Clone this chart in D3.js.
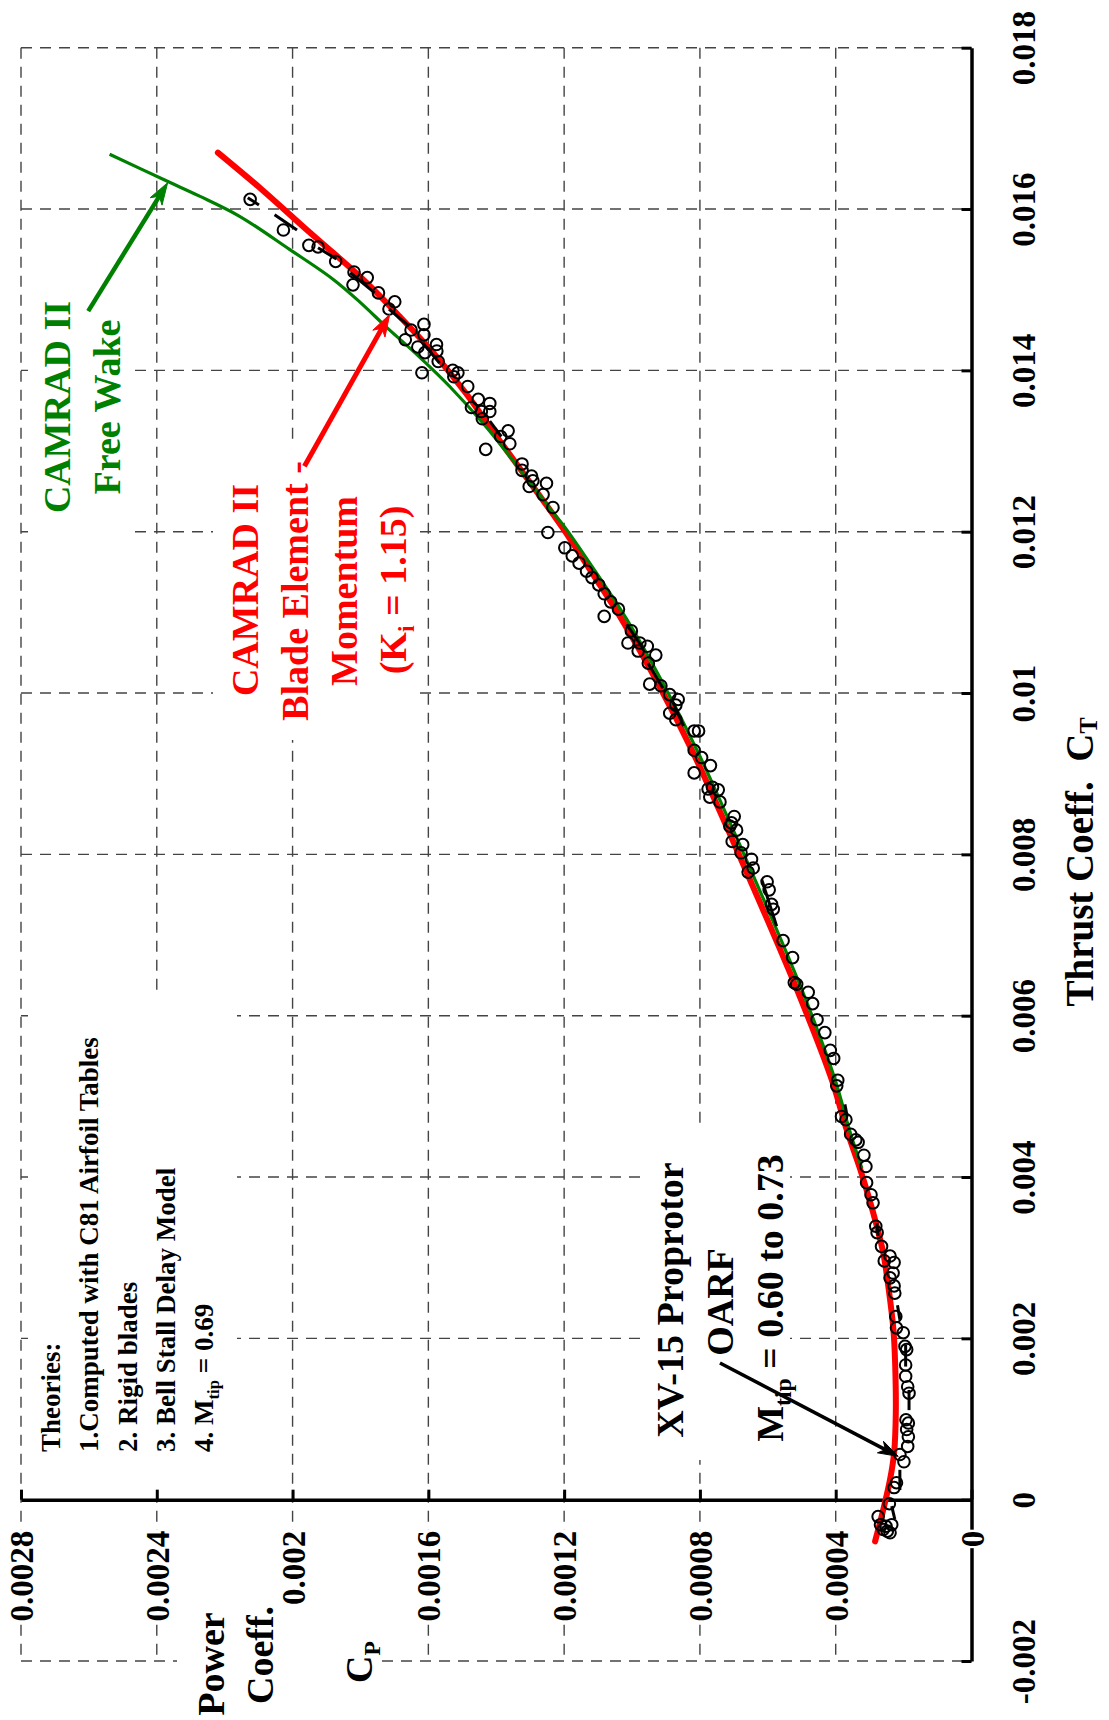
<!DOCTYPE html>
<html>
<head>
<meta charset="utf-8">
<script src="https://cdn.jsdelivr.net/npm/d3@7"></script>
<style>
  html, body { margin: 0; padding: 0; background: #fff; }
  svg { display: block; }
  text { font-family: "Liberation Serif", "Times New Roman", serif; font-weight: bold; }
</style>
</head>
<body>
<svg id="chart" width="1109" height="1720"></svg>
<script>
// Thrust coefficient CT (abscissa of the performance map)
const ctTicks = [-0.002, 0, 0.002, 0.004, 0.006, 0.008, 0.01, 0.012, 0.014, 0.016, 0.018];
const ctTickLabels = ["-0.002", "0", "0.002", "0.004", "0.006", "0.008", "0.01", "0.012", "0.014", "0.016", "0.018"];

// Power coefficient CP (ordinate)
const cpTicks = [0, 0.0004, 0.0008, 0.0012, 0.0016, 0.002, 0.0024, 0.0028];
const cpTickLabels = ["0", "0.0004", "0.0008", "0.0012", "0.0016", "0.002", "0.0024", "0.0028"];

// CAMRAD II blade element - momentum (Ki = 1.15), [CT, CP]
const bemtCurve = [
  [-0.000517, 0.000284], [-0.000124, 0.000260], [0.000248, 0.000240], [0.000579, 0.000228],
  [0.001075, 0.000223], [0.001695, 0.000225], [0.002110, 0.000230], [0.002645, 0.000245],
  [0.003060, 0.000260], [0.003470, 0.000284], [0.003840, 0.000309], [0.004110, 0.000329],
  [0.004590, 0.000368], [0.005210, 0.000412], [0.006240, 0.000506], [0.007400, 0.000623],
  [0.008350, 0.000722], [0.009260, 0.000820], [0.010130, 0.000925], [0.010910, 0.001030],
  [0.011470, 0.001115], [0.012050, 0.001205], [0.012520, 0.001285], [0.013140, 0.001392],
  [0.013720, 0.001490], [0.014220, 0.001586], [0.014670, 0.001685], [0.015090, 0.001783],
  [0.015460, 0.001881], [0.015750, 0.001960], [0.016240, 0.002090], [0.016700, 0.002220]
];

// CAMRAD II free wake, [CT, CP]
const freeWakeCurve = [
  [0.00411, 0.000323], [0.00459, 0.000360], [0.00521, 0.000402], [0.00624, 0.000492],
  [0.00740, 0.000608], [0.00835, 0.000707], [0.00926, 0.000805], [0.01013, 0.000910],
  [0.01091, 0.001015], [0.01147, 0.001102], [0.01205, 0.001197], [0.01225, 0.001235],
  [0.01277, 0.001330], [0.01331, 0.001432], [0.01380, 0.001537], [0.01422, 0.001640],
  [0.01453, 0.001722], [0.01484, 0.001800], [0.01513, 0.001881], [0.01550, 0.002009],
  [0.01591, 0.002156], [0.01616, 0.002274], [0.01635, 0.002372], [0.01668, 0.002539]
];

// XV-15 proprotor hover test, OARF, Mtip 0.60 to 0.73, [CT, CP]
const testPoints = [
  [0.01612, 0.002125], [0.01574, 0.002027], [0.01555, 0.001952], [0.01553, 0.001925],
  [0.01535, 0.001873], [0.01522, 0.001819], [0.01506, 0.001822], [0.01515, 0.001780],
  [0.01496, 0.001747], [0.01476, 0.001716], [0.01485, 0.001699], [0.01438, 0.001668],
  [0.01450, 0.001651], [0.01457, 0.001613], [0.01444, 0.001613], [0.01429, 0.001631],
  [0.01422, 0.001610], [0.01397, 0.001619], [0.01432, 0.001576], [0.01424, 0.001575],
  [0.01411, 0.001571], [0.01400, 0.001528], [0.01397, 0.001513], [0.01392, 0.001525],
  [0.01380, 0.001484], [0.01364, 0.001453], [0.01359, 0.001419], [0.01354, 0.001473],
  [0.01349, 0.001444], [0.01349, 0.001419], [0.01340, 0.001441], [0.01302, 0.001431],
  [0.01318, 0.001387], [0.01325, 0.001365], [0.01309, 0.001360], [0.01284, 0.001324],
  [0.01276, 0.001324], [0.01269, 0.001296], [0.01263, 0.001292], [0.01256, 0.001303],
  [0.01260, 0.001252], [0.01246, 0.001262], [0.01199, 0.001248], [0.01230, 0.001233],
  [0.01180, 0.001198], [0.01170, 0.001176], [0.01161, 0.001156], [0.01151, 0.001134],
  [0.01143, 0.001118], [0.01134, 0.001098], [0.01123, 0.001082], [0.01095, 0.001082],
  [0.01113, 0.001063], [0.01104, 0.001040], [0.01077, 0.001002], [0.01062, 0.001012],
  [0.01062, 0.000977], [0.01058, 0.000955], [0.01052, 0.000982], [0.01047, 0.000930],
  [0.01037, 0.000952], [0.01011, 0.000948], [0.01009, 0.000915], [0.00998, 0.000889],
  [0.00992, 0.000864], [0.00985, 0.000871], [0.00975, 0.000889], [0.00967, 0.000871],
  [0.00953, 0.000817], [0.00953, 0.000804], [0.00929, 0.000817], [0.00920, 0.000795],
  [0.00910, 0.000769], [0.00901, 0.000817], [0.00881, 0.000776], [0.00883, 0.000763],
  [0.00880, 0.000746], [0.00871, 0.000771], [0.00865, 0.000741], [0.00847, 0.000699],
  [0.00839, 0.000707], [0.00835, 0.000712], [0.00830, 0.000692], [0.00816, 0.000705],
  [0.00812, 0.000674], [0.00802, 0.000679], [0.00794, 0.000648], [0.00783, 0.000643],
  [0.00778, 0.000658], [0.00766, 0.000602], [0.00756, 0.000596], [0.00738, 0.000589],
  [0.00732, 0.000584], [0.00693, 0.000555], [0.00672, 0.000527], [0.00641, 0.000522],
  [0.00639, 0.000515], [0.00629, 0.000481], [0.00615, 0.000468], [0.00595, 0.000455],
  [0.00579, 0.000432], [0.00557, 0.000416], [0.00547, 0.000406], [0.00520, 0.000394],
  [0.00513, 0.000397], [0.00475, 0.000383], [0.00471, 0.000370], [0.00453, 0.000356],
  [0.00446, 0.000341], [0.00443, 0.000334], [0.00427, 0.000317], [0.00413, 0.000311],
  [0.00393, 0.000309], [0.00378, 0.000296], [0.00368, 0.000290], [0.00339, 0.000282],
  [0.00331, 0.000278], [0.00314, 0.000265], [0.00296, 0.000257], [0.00302, 0.000240],
  [0.00294, 0.000228], [0.00281, 0.000231], [0.00275, 0.000240], [0.00265, 0.000228],
  [0.00256, 0.000226], [0.00227, 0.000223], [0.00213, 0.000221], [0.00207, 0.000201],
  [0.00190, 0.000196], [0.00186, 0.000191], [0.00167, 0.000194], [0.00153, 0.000194],
  [0.00140, 0.000188], [0.00132, 0.000184], [0.00099, 0.000193], [0.00095, 0.000186],
  [0.00087, 0.000191], [0.00078, 0.000186], [0.00066, 0.000188], [0.00056, 0.000211],
  [0.00047, 0.000199], [0.00021, 0.000221], [0.00015, 0.000228], [-0.00005, 0.000242],
  [-0.00021, 0.000275], [-0.00031, 0.000268], [-0.00033, 0.000252], [-0.00031, 0.000235],
  [-0.00039, 0.000248], [-0.00041, 0.000240], [-0.00037, 0.000260]
];

// Repeat-point runs joined by short lines, [CT1, CP1, CT2, CP2]
const testLinks = [
  [0.01614, 0.002132, 0.01605, 0.002099], [0.01593, 0.002053, 0.01574, 0.001987],
  [0.01552, 0.001925, 0.01538, 0.001871], [0.01521, 0.001830, 0.01496, 0.001758],
  [0.01476, 0.001716, 0.01455, 0.001657], [0.01434, 0.001616, 0.01409, 0.001567],
  [0.01337, 0.001419, 0.01318, 0.001385], [0.01085, 0.001016, 0.01058, 0.000972],
  [0.01037, 0.000953, 0.01006, 0.000909], [0.00988, 0.000879, 0.00959, 0.000848],
  [0.00769, 0.000618, 0.00711, 0.000574], [0.00490, 0.000373, 0.00475, 0.000366],
  [0.00343, 0.000279, 0.00327, 0.000275], [0.00241, 0.000218, 0.00223, 0.000211],
  [0.00192, 0.000194, 0.00165, 0.000194], [0.00136, 0.000184, 0.00111, 0.000184],
  [0.00037, 0.000211, 0.00012, 0.000211], [-0.00008, 0.000235, -0.00024, 0.000226]
];

// Annotation arrows, tail and tip as [CT, CP]
const freeWakeArrow = [[0.014734, 0.002602], [0.016326, 0.002368]];
const bemtArrow = [[0.012812, 0.001965], [0.014693, 0.001714]];
const testArrow = [[0.001695, 0.000741], [0.000537, 0.000216]];

const GREEN = "#008000";
const RED = "#ff0000";

const svg = d3.select("#chart");

// The map is laid on its side: CT runs up the page, CP runs right-to-left.
const y = d3.scaleLinear().domain([-0.002, 0.018]).range([1661, 47.7]);
const x = d3.scaleLinear().domain([0, 0.0028]).range([971.5, 21]);

// ---- dashed grid ----
const grid = svg.append("g").attr("stroke", "#444").attr("stroke-width", 1.4)
  .attr("stroke-dasharray", "11,8").attr("fill", "none");
grid.selectAll("line.h").data(ctTicks).join("line").attr("class", "h")
  .attr("x1", x(0.0028)).attr("x2", x(0)).attr("y1", d => y(d)).attr("y2", d => y(d));
grid.selectAll("line.v").data(cpTicks.filter(d => d > 0)).join("line").attr("class", "v")
  .attr("x1", d => x(d)).attr("x2", d => x(d)).attr("y1", y(0.018)).attr("y2", y(-0.002));

// white panels behind the annotation blocks
const panels = [
  [28, 288, 107, 255],    // free wake label
  [213, 445, 203, 295],   // blade element label
  [28, 996, 209, 488],    // theories list
  [647, 1130, 143, 330],  // test label
  [177, 1594, 200, 126]   // CP axis title
];
svg.append("g").selectAll("rect").data(panels).join("rect")
  .attr("x", d => d[0]).attr("y", d => d[1]).attr("width", d => d[2]).attr("height", d => d[3])
  .attr("fill", "#fff");

// ---- axes ----
const ctAxis = d3.axisRight(y).tickValues(ctTicks)
  .tickFormat((d, i) => ctTickLabels[i]).tickSizeInner(-10).tickSizeOuter(0);
const gCT = svg.append("g").attr("transform", `translate(${x(0)},0)`).call(ctAxis);
gCT.selectAll("text")
  .attr("transform", "rotate(-90)").attr("x", 0).attr("y", 63.5).attr("dy", 0)
  .attr("text-anchor", "middle");

const cpAxis = d3.axisBottom(x).tickValues(cpTicks)
  .tickFormat((d, i) => cpTickLabels[i]).tickSizeInner(-10).tickSizeOuter(0);
const gCP = svg.append("g").attr("transform", `translate(0,${y(0)})`).call(cpAxis);
gCP.selectAll("text")
  .attr("transform", "rotate(-90)").attr("x", -31).attr("y", 11.5).attr("dy", 0)
  .attr("text-anchor", "end");

[gCT, gCP].forEach(g => {
  g.attr("font-size", null).attr("font-family", null);
  g.select(".domain").attr("stroke", "#000").attr("stroke-width", 3.5);
  g.selectAll(".tick line").attr("stroke", "#000").attr("stroke-width", 3);
  g.selectAll(".tick text").attr("fill", "#000").style("font-size", "33px");
});
// CP labels sit on a white ground so grid lines and the CT axis pass behind them
gCP.selectAll(".tick").each(function () {
  const t = d3.select(this).select("text");
  const b = t.node().getBBox();
  d3.select(this).insert("rect", "text")
    .attr("transform", "rotate(-90)")
    .attr("x", b.x - 1).attr("y", b.y + 2).attr("width", b.width + 2).attr("height", b.height - 4)
    .attr("fill", "#fff");
});

// ---- curves ----
const line = d3.line().x(d => x(d[1])).y(d => y(d[0])).curve(d3.curveCatmullRom.alpha(0.5));

svg.append("path").datum(bemtCurve).attr("d", line)
  .attr("fill", "none").attr("stroke", RED).attr("stroke-width", 6).attr("stroke-linecap", "round");
svg.append("path").datum(freeWakeCurve).attr("d", line)
  .attr("fill", "none").attr("stroke", GREEN).attr("stroke-width", 3.2);

// ---- test data ----
svg.append("g").selectAll("line").data(testLinks).join("line")
  .attr("x1", d => x(d[1])).attr("y1", d => y(d[0]))
  .attr("x2", d => x(d[3])).attr("y2", d => y(d[2]))
  .attr("stroke", "#000").attr("stroke-width", 3);

svg.append("g").selectAll("circle").data(testPoints).join("circle")
  .attr("cx", d => x(d[1])).attr("cy", d => y(d[0])).attr("r", 5.8)
  .attr("fill", "none").attr("stroke", "#000").attr("stroke-width", 2);

// ---- arrows ----
function arrow(pts, color, width, len, half) {
  const x0 = x(pts[0][1]), y0 = y(pts[0][0]);
  const x1 = x(pts[1][1]), y1 = y(pts[1][0]);
  const a = Math.atan2(y1 - y0, x1 - x0);
  const ux = Math.cos(a), uy = Math.sin(a);
  svg.append("line")
    .attr("x1", x0).attr("y1", y0)
    .attr("x2", x1 - ux * len * 0.7).attr("y2", y1 - uy * len * 0.7)
    .attr("stroke", color).attr("stroke-width", width);
  const bx = x1 - ux * len, by = y1 - uy * len;
  const nx = x1 - ux * len * 0.72, ny = y1 - uy * len * 0.72;
  const head = [
    [x1, y1],
    [bx - uy * half, by + ux * half],
    [nx, ny],
    [bx + uy * half, by - ux * half]
  ];
  svg.append("path").attr("d", "M" + head.map(p => p.join(",")).join("L") + "Z")
    .attr("fill", color).attr("stroke", color).attr("stroke-width", 1);
}
arrow(freeWakeArrow, GREEN, 4.5, 22, 7);
arrow(bemtArrow, RED, 5, 22, 7);
arrow(testArrow, "#000", 3.5, 20, 6.5);

// ---- text ----
// Vertical text reading upward; baseline at X, anchored at Y.
function vtext(X, Y, anchor, size, fill, parts, subShift = 0.22) {
  const t = svg.append("text")
    .attr("transform", `translate(${X},${Y}) rotate(-90)`)
    .attr("text-anchor", anchor).attr("font-size", size).attr("fill", fill);
  let shift = 0;
  parts.forEach(p => {
    const s = t.append("tspan").text(p.t);
    const want = p.sub ? size * subShift : 0;
    if (want !== shift) { s.attr("dy", want - shift); shift = want; }
    if (p.sub) s.attr("font-size", size * 0.62);
  });
  return t;
}

vtext(70, 407, "middle", 38, GREEN, [{ t: "CAMRAD II" }]);
vtext(120, 407, "middle", 38, GREEN, [{ t: "Free Wake" }]);

vtext(258, 590, "middle", 38, RED, [{ t: "CAMRAD II" }]);
vtext(308, 591, "middle", 38, RED, [{ t: "Blade Element -" }]);
vtext(357, 591, "middle", 38, RED, [{ t: "Momentum" }]);
vtext(406, 590, "middle", 38, RED, [{ t: "(K" }, { t: "i", sub: true }, { t: " = 1.15)" }]);

vtext(60, 1452, "start", 27, "#000", [{ t: "Theories:" }]);
vtext(98, 1452, "start", 27, "#000", [{ t: "1.Computed with C81 Airfoil Tables" }]);
vtext(137, 1452, "start", 27, "#000", [{ t: "2. Rigid blades" }]);
vtext(175, 1452, "start", 27, "#000", [{ t: "3. Bell Stall Delay Model" }]);
vtext(213, 1452, "start", 27, "#000", [{ t: "4. M" }, { t: "tip", sub: true }, { t: " = 0.69" }]);

vtext(683, 1300, "middle", 38, "#000", [{ t: "XV-15 Proprotor" }]);
vtext(733, 1302, "middle", 38, "#000", [{ t: "OARF" }]);
vtext(783, 1298, "middle", 38, "#000", [{ t: "M" }, { t: "tip", sub: true }, { t: " = 0.60 to 0.73" }]);

vtext(1093, 862, "middle", 39, "#000", [{ t: "Thrust Coeff.\u00a0 C" }, { t: "T", sub: true }], 0.1);

vtext(224, 1664, "middle", 38, "#000", [{ t: "Power" }]);
vtext(273, 1655, "middle", 38, "#000", [{ t: "Coeff." }]);
vtext(372, 1662, "middle", 38, "#000", [{ t: "C" }, { t: "P", sub: true }]);
</script>
</body>
</html>
